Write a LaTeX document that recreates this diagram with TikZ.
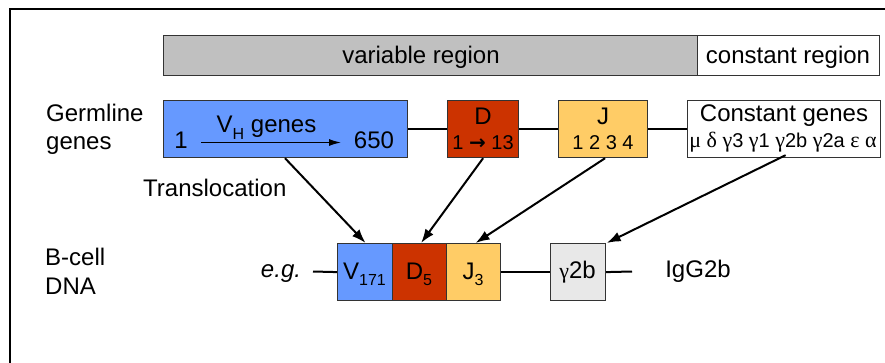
\documentclass[tikz,border=0pt]{standalone}
\usepackage{fontspec}
\setmainfont{Liberation Sans}
\newfontfamily\grk{Liberation Serif}
\newfontfamily\dejavu{DejaVu Sans}
\usetikzlibrary{arrows.meta}
\definecolor{vblue}{HTML}{6699FF}
\definecolor{dred}{HTML}{CC3300}
\definecolor{jyel}{HTML}{FFCC66}
\definecolor{barg}{HTML}{C0C0C0}
\definecolor{cgray}{HTML}{E8E8E8}
\definecolor{edgec}{HTML}{333333}
\newcommand{\sbs}[1]{\raisebox{-0.28em}{\fontsize{16}{16}\selectfont #1}}
\newcommand{\gk}[1]{{\grk\fontsize{22}{22}\selectfont #1}}
\begin{document}
\begin{tikzpicture}[x=1pt,y=-1pt,
  box/.style={draw=edgec,line width=1.2pt,inner sep=0pt,anchor=north west},
  lbl/.style={inner sep=0pt,anchor=base,font=\fontsize{24}{28}\selectfont},
  lblw/.style={lbl,anchor=base west},
  small/.style={inner sep=0pt,anchor=base,font=\fontsize{20}{23}\selectfont},
  link/.style={line width=2pt},
  arr/.style={line width=2pt,-{Latex[length=14pt,width=10pt]}},
  thinarr/.style={line width=1.2pt,-{Latex[length=12pt,width=7pt]}}]
\useasboundingbox (0,0) rectangle (885,363);
\fill[white] (0,0) rectangle (885,363);
% frame
\draw[line width=2pt] (886,9) -- (10,9) -- (10,364);
% region bar
\node[box,fill=barg,minimum width=534pt,minimum height=40pt] (var) at (163,35) {};
\node[box,fill=white,minimum width=182pt,minimum height=40pt] (con) at (697,35) {};
\node[lbl] (vart) at (421,63.5) {variable region};
\node[lbl] (cont) at (788,63.5) {constant region};
% germline
\node[lblw] (germ1) at (46,122) {Germline};
\node[lblw] (germ2) at (46,150) {genes};
\node[box,fill=vblue,minimum width=244pt,minimum height=57pt] (vh) at (163,100) {};
\node[box,fill=dred,minimum width=71pt,minimum height=57pt] (d) at (447,100) {};
\node[box,fill=jyel,minimum width=89pt,minimum height=57pt] (j) at (558,100) {};
\node[box,fill=white,minimum width=193pt,minimum height=57pt] (cg) at (687,100) {};
\draw[link] (vh.east) -- (d.west);
\draw[link] (d.east) -- (j.west);
\draw[link] (j.east) -- (cg.west);
\node[lbl] (vht) at (266.5,132.5) {V\sbs{H} genes};
\node[lbl] (vh1) at (181,148.5) {1};
\node[lbl] (vh650) at (374,148.5) {650};
\coordinate (va1) at (201,142.5);
\coordinate (va2) at (341,142.5);
\draw[thinarr] (va1) -- (va2);
\node[lbl] (dt) at (483,125) {D};
\node[small] (dn) at (483,149.3) {1 {\dejavu\bfseries →} 13};
\node[lbl] (jt) at (603,125) {J};
\node[small] (jn) at (603,149.3) {1 2 3 4};
\node[lbl] (cgt) at (784,121.7) {Constant genes};
\node[small] (cgn) at (783,147.7) {\gk{μ δ γ}3 \gk{γ}1 \gk{γ}2b \gk{γ}2a \gk{ε α}};
\node[lblw] (trans) at (143,197) {Translocation};
% B-cell DNA
\node[lblw] (bc1) at (45,265) {B-cell};
\node[lblw] (bc2) at (45,294) {DNA};
\node[lbl,font=\fontsize{24}{28}\selectfont\itshape] (eg) at (281,277) {e.g.};
\node[box,fill=vblue,minimum width=55pt,minimum height=57pt] (v2) at (337,243) {};
\node[box,fill=dred,minimum width=54pt,minimum height=57pt] (d2) at (392,243) {};
\node[box,fill=jyel,minimum width=54pt,minimum height=57pt] (j2) at (446,243) {};
\node[box,fill=cgray,minimum width=55pt,minimum height=57pt] (g2) at (550,243) {};
\coordinate (egend) at (313,271.5);
\coordinate (gend) at (632,271.5);
\draw[link] (egend) -- (v2.west);
\draw[link] (j2.east) -- (g2.west);
\draw[link] (g2.east) -- (gend);
\node[lbl] (v2t) at (364.5,279) {V\sbs{171}};
\node[lbl] (d2t) at (419,279) {D\sbs{5}};
\node[lbl] (j2t) at (473,279) {J\sbs{3}};
\node[lbl] (g2t) at (577.5,278) {\gk{γ}2b};
\node[lbl] (igg) at (698,277) {IgG2b};
% arrows
\draw[arr] ([xshift=122pt]vh.south west) -- ([xshift=0.5pt]v2.north);
\draw[arr] (d.south) -- ([xshift=1.5pt]d2.north);
\draw[arr] ([xshift=2pt]j.south) -- ([xshift=2pt]j2.north);
\draw[arr] ([xshift=1.5pt,yshift=3pt]cg.south) -- ([xshift=0.5pt]g2.north east);
\end{tikzpicture}
\end{document}
